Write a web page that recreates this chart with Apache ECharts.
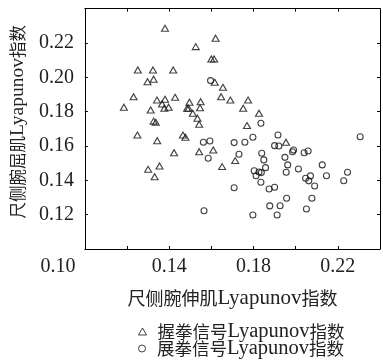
<!DOCTYPE html>
<html><head><meta charset="utf-8">
<script src="https://cdn.jsdelivr.net/npm/echarts@6/dist/echarts.min.js"></script>
<style>html,body{margin:0;padding:0;background:#fff}#c{width:383px;height:360px}</style>
</head><body><div id="c"></div>
<script>
// Data
const gripName = '握拳信号Lyapunov指数';
const releaseName = '展拳信号Lyapunov指数';
const xAxisTitle = ['尺侧腕伸肌', 'Lyapunov', '指数'];
const yAxisTitle = ['尺侧腕屈肌', 'Lyapunov', '指数'];
const xTickLabels = ['0.10', '0.14', '0.18', '0.22'];
const yTickLabels = ['0.12', '0.14', '0.16', '0.18', '0.20', '0.22'];
const gripPoints = [
  [0.1380,0.2286],[0.1620,0.2228],[0.1526,0.2179],[0.1600,0.2107],[0.1613,0.2107],
  [0.1251,0.2043],[0.1323,0.2043],[0.1419,0.2043],[0.1297,0.1975],[0.1326,0.1989],
  [0.1616,0.1971],[0.1655,0.1942],[0.1231,0.1887],[0.1646,0.1887],[0.1690,0.1868],
  [0.1185,0.1826],[0.1312,0.1810],[0.1342,0.1868],[0.1380,0.1872],[0.1366,0.1845],
  [0.1428,0.1884],[0.1377,0.1820],[0.1397,0.1826],[0.1496,0.1855],[0.1549,0.1858],
  [0.1485,0.1820],[0.1492,0.1820],[0.1546,0.1823],[0.1512,0.1791],[0.1534,0.1762],
  [0.1542,0.1727],[0.1326,0.1745],[0.1336,0.1738],[0.1774,0.1868],[0.1751,0.1820],
  [0.1826,0.1791],[0.1769,0.1719],[0.1249,0.1664],[0.1343,0.1631],[0.1465,0.1664],
  [0.1477,0.1651],[0.1423,0.1561],[0.1542,0.1567],[0.1609,0.1577],[0.1713,0.1515],
  [0.1300,0.1464],[0.1354,0.1484],[0.1331,0.1421],[0.1651,0.1480],[0.1954,0.1622]
];
const releasePoints = [
  [0.1596,0.1981],[0.1835,0.1733],[0.1562,0.1622],[0.1593,0.1629],[0.1708,0.1620],
  [0.1585,0.1529],[0.1708,0.1357],[0.1565,0.1223],[0.1916,0.1664],[0.1797,0.1651],
  [0.1759,0.1622],[0.1900,0.1602],[0.1920,0.1600],[0.1731,0.1552],[0.1839,0.1558],
  [0.1849,0.1519],[0.1985,0.1567],[0.1990,0.1577],[0.1949,0.1534],[0.2040,0.1561],
  [0.2059,0.1571],[0.1962,0.1490],[0.1857,0.1474],[0.1803,0.1456],[0.1826,0.1449],
  [0.1812,0.1427],[0.1837,0.1445],[0.1955,0.1447],[0.2013,0.1466],[0.2126,0.1490],
  [0.2246,0.1447],[0.2146,0.1427],[0.2047,0.1412],[0.2070,0.1426],[0.2062,0.1397],
  [0.2228,0.1398],[0.2090,0.1367],[0.1835,0.1389],[0.1874,0.1350],[0.1900,0.1360],
  [0.1957,0.1296],[0.2077,0.1296],[0.1877,0.1251],[0.1926,0.1252],[0.2051,0.1233],
  [0.1797,0.1198],[0.1912,0.1198],[0.2306,0.1654]
];

const SERIF = 'Liberation Serif';
const CJK = 'Noto Sans CJK SC';
const TXT = '#222';
function titleRich(parts) { return '{c|' + parts[0] + '}{l|' + parts[1] + '}{c|' + parts[2] + '}'; }
const tickStyle = {show: true, inside: true, length: 3, lineStyle: {color: '#000', width: 1}};
const lineStyle = {show: true, lineStyle: {color: '#000', width: 1}};

const chart = echarts.init(document.getElementById('c'), null, {renderer: 'canvas'});
chart.setOption({
  animation: false,
  backgroundColor: '#fff',
  grid: {left: 83.3, right: -3.6, top: 8.7, bottom: 111, show: false},
  xAxis: [{
    type: 'value', min: 0.10, max: 0.24, interval: 0.02, position: 'bottom',
    axisLine: lineStyle, axisTick: tickStyle, splitLine: {show: false},
    axisLabel: {
      showMinLabel: true, showMaxLabel: true, margin: 8,
      fontFamily: SERIF, fontSize: 20, color: TXT,
      formatter: function (v) {
        const s = v.toFixed(2);
        if (xTickLabels.indexOf(s) < 0) return '';
        return s === xTickLabels[0] ? '{off|' + s + '}' : s;
      },
      rich: {off: {fontFamily: SERIF, fontSize: 20, color: TXT, padding: [0, 54, 0, 0]}}
    },
    name: titleRich(xAxisTitle), nameLocation: 'middle', nameGap: 39,
    nameTextStyle: {rich: {
      c: {fontFamily: CJK, fontSize: 18, color: TXT},
      l: {fontFamily: SERIF, fontSize: 21, color: TXT}
    }}
  }, {
    type: 'value', min: 0.10, max: 0.24, interval: 0.02, position: 'top',
    axisLine: lineStyle, axisTick: tickStyle, splitLine: {show: false}, axisLabel: {show: false}
  }],
  yAxis: [{
    type: 'value', min: 0.10, max: 0.24, interval: 0.02, position: 'left',
    axisLine: lineStyle, axisTick: tickStyle, splitLine: {show: false},
    axisLabel: {
      showMinLabel: true, showMaxLabel: true, margin: 11,
      fontFamily: SERIF, fontSize: 20, color: TXT,
      formatter: function (v) { const s = v.toFixed(2); return yTickLabels.indexOf(s) < 0 ? '' : s; }
    },
    name: titleRich(yAxisTitle), nameLocation: 'middle', nameGap: 52,
    nameTextStyle: {padding: [0, 0, 0, 14], rich: {
      c: {fontFamily: CJK, fontSize: 16.5, color: TXT},
      l: {fontFamily: SERIF, fontSize: 19.5, color: TXT}
    }}
  }, {
    type: 'value', min: 0.10, max: 0.24, interval: 0.02, position: 'right',
    axisLine: lineStyle, axisTick: tickStyle, splitLine: {show: false}, axisLabel: {show: false}
  }],
  legend: [
    {data: [{name: gripName, icon: 'triangle'}]},
    {data: [{name: releaseName, icon: 'circle'}]}
  ].map(function (lg, i) {
    return Object.assign(lg, {
      left: 138, top: i === 0 ? 321 : 338, itemWidth: 8, itemHeight: 7, padding: 0,
      itemStyle: {color: 'rgba(0,0,0,0)', borderColor: '#111', borderWidth: 1},
      formatter: function (name) {
        const parts = name.split('Lyapunov');
        return '{c|' + parts[0] + '}{l|Lyapunov}{c2|' + parts[1] + '}';
      },
      textStyle: {rich: {
        c: {fontFamily: CJK, fontSize: 17.5, color: TXT, padding: [0, 0, 0, 6]},
        l: {fontFamily: SERIF, fontSize: 20.5, color: TXT},
        c2: {fontFamily: CJK, fontSize: 17.5, color: TXT}
      }}
    });
  }),
  series: [{
    name: gripName, type: 'scatter', data: gripPoints, symbol: 'triangle', symbolSize: [7, 6],
    itemStyle: {color: 'rgba(0,0,0,0)', borderColor: '#111', borderWidth: 1.1}
  }, {
    name: releaseName, type: 'scatter', data: releasePoints, symbol: 'circle', symbolSize: 6,
    itemStyle: {color: 'rgba(0,0,0,0)', borderColor: '#111', borderWidth: 1.1}
  }]
});
</script></body></html>
